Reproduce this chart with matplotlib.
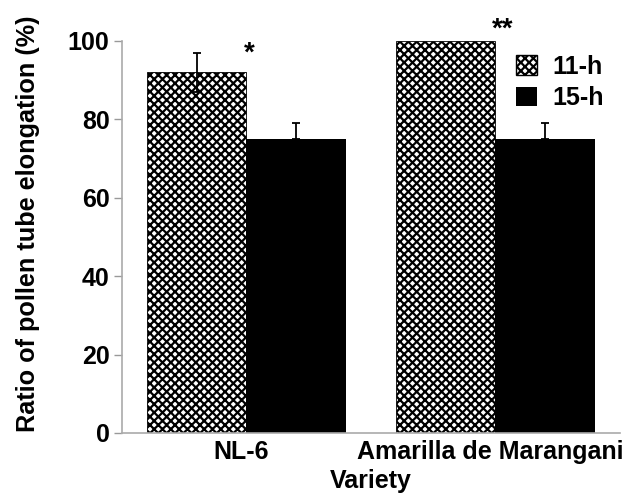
import numpy as np
import matplotlib.pyplot as plt
import matplotlib.transforms as mtransforms

plt.rcParams['font.family'] = ['Liberation Sans', 'DejaVu Sans']
plt.rcParams['font.weight'] = 'bold'
plt.rcParams['hatch.linewidth'] = 1.6

varieties = ["NL-6", "Amarilla de Marangani"]
series = ["11-h", "15-h"]
vals_11h = [92, 100]
err_11h = [5, np.nan]
vals_15h = [75, 75]
err_15h = [4, 4]
stars = ["*", "**"]

x = np.arange(len(varieties))
w = 0.4

fig = plt.figure(figsize=(6.27, 4.97), dpi=100)
ax = fig.add_axes([0.1946, 0.1288, 0.794, 0.789])

ax.bar(x - w / 2, vals_11h, w, color="white", edgecolor="black", hatch="xxxx",
       linewidth=0.6, label=series[0])
ax.bar(x + w / 2, vals_15h, w, color="black", label=series[1])
ax.errorbar(x - w / 2, vals_11h, yerr=err_11h, fmt="none",
            ecolor="black", elinewidth=1.3, capsize=3, capthick=1.3)
ax.errorbar(x + w / 2, vals_15h, yerr=[[0, 0], err_15h], fmt="none",
            ecolor="black", elinewidth=1.3, capsize=3, capthick=1.3)

# significance marks
ax.text(x[0] + 0.01, 93.5, stars[0], ha="center", va="bottom", fontsize=20,
        fontweight="bold", clip_on=False)
ax.text(x[1] + 0.03, 99.5, stars[1], ha="center", va="bottom", fontsize=20,
        fontweight="bold", clip_on=False)

ax.set_xlim(-0.5, 1.5)
ax.set_ylim(0, 100)
ax.set_yticks([0, 20, 40, 60, 80, 100])
ax.set_xticks(x)
ax.set_xticklabels(varieties, fontsize=18, fontweight="bold")
ax.tick_params(axis="y", labelsize=18, color="#999999", length=6, width=1, pad=3)
ax.tick_params(axis="x", length=0, pad=5)
shift = mtransforms.ScaledTranslation(-5 / 100, 0, fig.dpi_scale_trans)
for lab in ax.get_xticklabels():
    lab.set_transform(lab.get_transform() + shift)
for s in ["top", "right"]:
    ax.spines[s].set_visible(False)
for s in ["left", "bottom"]:
    ax.spines[s].set_color("#aaaaaa")
    ax.spines[s].set_linewidth(1.2)

ax.set_ylabel("Ratio of pollen tube elongation (%)", fontsize=18.2,
              fontweight="bold")
ax.yaxis.set_label_coords(-0.165, 0.533)
ax.set_xlabel("Variety", fontsize=18, fontweight="bold", labelpad=4)

leg = ax.legend(loc="upper left", bbox_to_anchor=(0.771, 0.99), frameon=False,
                prop={"size": 18, "weight": "bold"}, handlelength=0.84,
                handleheight=0.84, handletextpad=0.64, labelspacing=0.3,
                borderaxespad=0)
leg.get_patches()[0].set_linewidth(1)

plt.savefig("out.png", dpi=100)
